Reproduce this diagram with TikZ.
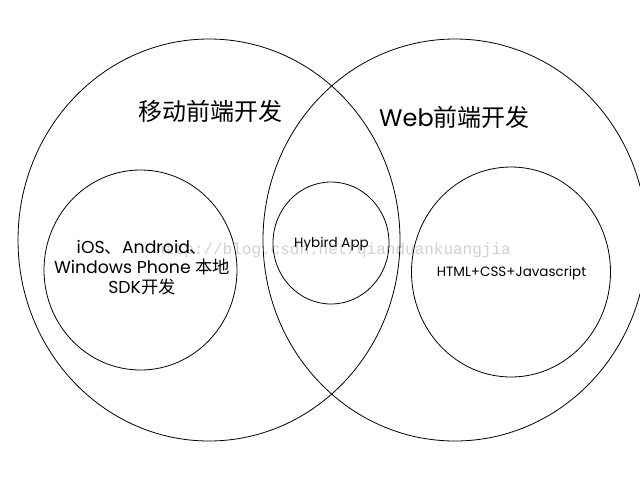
\documentclass[tikz,border=0pt]{standalone}
\usepackage{fontspec}
\setmainfont{Poppins}
\newfontfamily\cjk{Noto Sans CJK SC}
\newfontfamily\wmfont{Liberation Mono}
\usetikzlibrary{shapes.geometric}
\begin{document}
\begin{tikzpicture}[x=1pt,y=-1pt,
  ring/.style={draw=black, line width=0.8pt, ellipse, inner sep=0pt},
  titletext/.style={font=\fontsize{24}{28}\selectfont, inner sep=0pt},
  smalltext/.style={font=\fontsize{13.5}{16}\selectfont, align=center, inner sep=0pt},
  midtext/.style={font=\fontsize{17.3}{20}\selectfont, align=center, inner sep=0pt}]
\useasboundingbox (0,0) rectangle (640,480);
\fill[white] (0,0) rectangle (640,480);
% watermark
\node[text=black!18, font=\wmfont\fontsize{16}{16}\selectfont, anchor=east, inner sep=0pt] (wm) at (511,250) {http://blog.csdn.net/qianduankuangjia};
% big rings
\node[ring, minimum width=382pt, minimum height=402pt] (mob) at (209,240) {};
\node[ring, minimum width=384pt, minimum height=402pt] (web) at (455,240) {};
% titles
\node[titletext] (mobt) at (210.5,111) {\cjk 移动前端开发};
\node[titletext] (webt) at (454.5,117) {Web{\cjk 前端开发}};
% inner rings
\node[ring, minimum width=193pt, minimum height=200pt] (native) at (140.5,270) {};
\node[ring, minimum width=116pt, minimum height=122pt] (hybrid) at (331,243) {};
\node[ring, minimum width=199pt, minimum height=210pt] (html) at (511,272) {};
% inner texts
\node[midtext] (nativet) at (142,268)
  {iOS{\cjk 、}Android{\cjk 、}\\Windows Phone {\cjk 本地}\\SDK{\cjk 开发}};
\node[smalltext] (hybridt) at (331.5,244) {Hybird App};
\node[smalltext] (htmlt) at (511.5,273) {HTML+CSS+Javascript};
\end{tikzpicture}
\end{document}
